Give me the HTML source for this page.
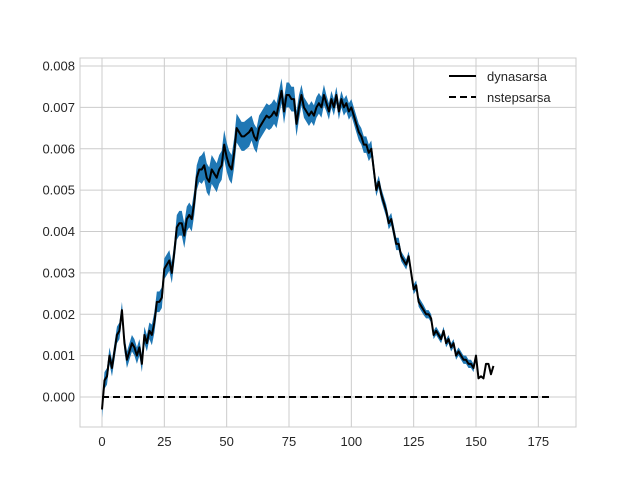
<!DOCTYPE html>
<html><head><meta charset="utf-8"><style>body{margin:0;background:#fff}svg{display:block}text{font-family:"Liberation Sans","DejaVu Sans",sans-serif;font-size:13px;fill:#262626}</style></head>
<body>
<svg id="chart" width="640" height="480" viewBox="0 0 640 480"></svg>
<script>
const xTicks=[0,25,50,75,100,125,150,175];
const yTicks=[0,0.001,0.002,0.003,0.004,0.005,0.006,0.007,0.008];
const yTickLabels=["0.000","0.001","0.002","0.003","0.004","0.005","0.006","0.007","0.008"];
const dynaMean=[-0.3,0.4,0.5,1.0,0.7,1.1,1.5,1.6,2.1,1.3,0.9,1.1,1.3,1.2,1.0,1.2,0.8,1.5,1.3,1.6,1.5,1.8,2.3,2.3,2.4,3.1,3.2,3.3,3.0,3.5,4.1,4.2,4.2,3.9,4.3,4.4,4.3,4.7,5.3,5.5,5.5,5.6,5.3,5.2,5.5,5.4,5.3,5.5,5.6,6.1,5.8,5.6,5.5,5.9,6.5,6.4,6.3,6.3,6.35,6.4,6.5,6.3,6.2,6.5,6.6,6.7,6.8,6.75,6.8,6.9,6.8,7.1,7.4,6.9,7.3,7.3,7.2,7.2,6.6,7.0,7.3,7.0,6.9,6.8,6.9,6.8,7.0,7.1,7.0,7.3,7.1,6.9,7.2,7.0,7.3,6.9,7.2,7.0,7.1,6.9,7.0,6.8,6.6,6.4,6.3,6.1,6.1,5.9,6.0,5.5,5.0,5.2,4.9,4.7,4.5,4.2,4.3,4.0,3.7,3.7,3.4,3.3,3.2,3.4,3.0,2.6,2.7,2.3,2.2,2.1,2.0,2.0,1.9,1.5,1.6,1.5,1.4,1.6,1.3,1.4,1.2,1.3,1.0,1.1,1.0,0.9,0.9,0.8,0.8,0.7,1.0,0.45,0.5,0.45,0.8,0.8,0.55,0.75];
const dynaErrPer10=[0.2,0.2,0.25,0.3,0.35,0.35,0.3,0.3,0.25,0.2,0.2,0.15,0.12,0.1,0.1,0.05];
const bandEnd=150;
const nstepX=[0,180];
const nstepY=[0,0];
const ns="http://www.w3.org/2000/svg",svg=document.getElementById('chart');
const L=80,R=576,T=58,B=427;
const xs=v=>102+v*(476-102)/150;
const ys=v=>397-v*(397-66)/0.008;
function el(t,a,p){const e=document.createElementNS(ns,t);for(const k in a)e.setAttribute(k,a[k]);(p||svg).appendChild(e);return e;}
const grid=el('g',{});


xTicks.forEach(t=>{el('line',{x1:xs(t),x2:xs(t),y1:T,y2:B,stroke:'#cccccc','stroke-width':1},grid);
const tx=el('text',{x:xs(t),y:446,'text-anchor':'middle'});tx.textContent=t;

});
yTicks.forEach((t,i)=>{el('line',{x1:L,x2:R,y1:ys(t),y2:ys(t),stroke:'#cccccc','stroke-width':1},grid);
const tx=el('text',{x:75,y:ys(t)+4.5,'text-anchor':'end'});tx.textContent=yTickLabels[i];

});
const frame=el('rect',{x:L,y:T,width:R-L,height:B-T,fill:'none',stroke:'#cccccc','stroke-width':1});


let up=[],lo=[];
dynaMean.forEach((m,i)=>{if(i>bandEnd)return;const e=dynaErrPer10[Math.floor(i/10)];up.push(xs(i)+','+ys((m+e)/1000));lo.unshift(xs(i)+','+ys((m-e)/1000));});
const band=el('polygon',{points:up.concat(lo).join(' '),fill:'#1f77b4'});


const line=el('polyline',{points:dynaMean.map((m,i)=>xs(i)+','+ys(m/1000)).join(' '),fill:'none',stroke:'#000','stroke-width':2,'stroke-linejoin':'round'});


const dl=el('polyline',{points:nstepX.map((x,i)=>xs(x)+','+ys(nstepY[i])).join(' '),fill:'none',stroke:'#000','stroke-width':2,'stroke-dasharray':'7,4'});


const lg=el('g',{});


el('line',{x1:449,x2:476,y1:76,y2:76,stroke:'#000','stroke-width':2},lg);
el('line',{x1:449,x2:476,y1:97,y2:97,stroke:'#000','stroke-width':2,'stroke-dasharray':'7,4'},lg);
const t1=el('text',{x:487,y:81},lg);t1.textContent='dynasarsa';


const t2=el('text',{x:487,y:102},lg);t2.textContent='nstepsarsa';


</script>
</body></html>
